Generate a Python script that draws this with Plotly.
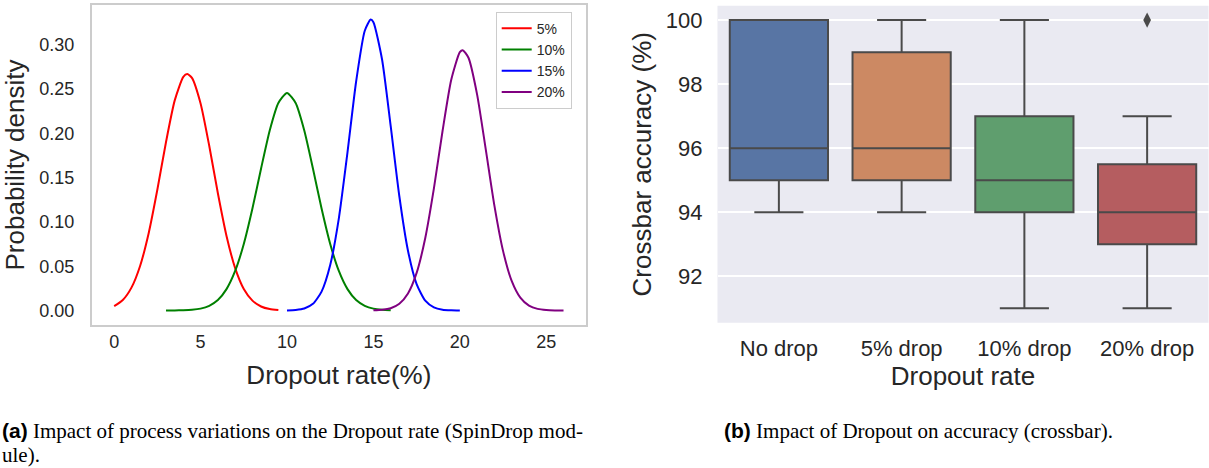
import plotly.graph_objects as go

# ---------------- data: panel (a) density curves ----------------
red_x = [0, 0.5, 1, 1.5, 2, 2.5, 3, 3.5, 4, 4.23, 4.5, 5, 5.5, 6, 6.5, 7, 7.5, 8, 8.5, 9, 9.5]
red_y = [0.0049, 0.0118, 0.0258, 0.0503, 0.0876, 0.1366, 0.1903, 0.2370, 0.2638, 0.2670, 0.2627,
         0.2338, 0.1860, 0.1324, 0.0842, 0.0479, 0.0243, 0.0111, 0.0045, 0.0016, 0.0005]

green_x = [3, 3.5, 4, 4.5, 5, 5.5, 6, 6.5, 7, 7.5, 8, 8.5, 9, 9.5, 10,
           10.5, 11, 11.5, 12, 12.5, 13, 13.5, 14, 14.5, 15, 15.5, 16]
green_y = [0.0000, 0.0001, 0.0003, 0.0008, 0.0021, 0.0053, 0.0118, 0.0241, 0.0446, 0.0751, 0.1151,
           0.1604, 0.2033, 0.2343, 0.2457, 0.2343, 0.2033, 0.1604, 0.1151, 0.0751, 0.0446, 0.0241,
           0.0118, 0.0053, 0.0021, 0.0008, 0.0003]

blue_x = [10, 10.5, 11, 11.5, 12, 12.5, 13, 13.5, 14, 14.5, 14.84, 15, 15.5, 16, 16.5, 17, 17.5,
          18, 18.5, 19, 19.5, 20]
blue_y = [0.0001, 0.0006, 0.0022, 0.0075, 0.0213, 0.0513, 0.1041, 0.1786, 0.2586, 0.3159, 0.3285,
          0.3256, 0.2834, 0.2081, 0.1290, 0.0675, 0.0298, 0.0111, 0.0035, 0.0009, 0.0002, 0.0000]

purple_x = [15, 15.5, 16, 16.5, 17, 17.5, 18, 18.5, 19, 19.5, 20, 20.17, 20.5, 21, 21.5, 22, 22.5,
            23, 23.5, 24, 24.5, 25, 25.5, 26]
purple_y = [0.0002, 0.0008, 0.0026, 0.0076, 0.0192, 0.0424, 0.0819, 0.1379, 0.2027, 0.2603, 0.2917,
            0.2940, 0.2854, 0.2438, 0.1819, 0.1184, 0.0673, 0.0334, 0.0145, 0.0055, 0.0018, 0.0005,
            0.0001, 0.0000]

series_names = ["5%", "10%", "15%", "20%"]
x_ticks_a = [0, 5, 10, 15, 20, 25]
y_ticks_a = [0.00, 0.05, 0.10, 0.15, 0.20, 0.25, 0.30]

# ---------------- data: panel (b) box plot statistics ----------------
categories_b = ["No drop", "5% drop", "10% drop", "20% drop"]
lower_whisker = [94, 94, 91, 91]
q1_vals = [95, 95, 94, 93]
median_vals = [96, 96, 95, 94]
q3_vals = [100, 99, 97, 95.5]
upper_whisker = [100, 100, 100, 97]
outlier_cat = ["20% drop"]
outlier_val = [100]
y_ticks_b = [92, 94, 96, 98, 100]

# ---------------- styling ----------------
FONT = "Liberation Sans, Arial, sans-serif"
TXT = "#262626"
line_colors = ["red", "green", "blue", "purple"]
box_colors = ["#5875A4", "#CC8963", "#5F9E6E", "#B55D60"]
BOX_LINE = "#4a4a4a"

fig = go.Figure()

curves = [(red_x, red_y), (green_x, green_y), (blue_x, blue_y), (purple_x, purple_y)]
for (xs, ys), name, col in zip(curves, series_names, line_colors):
    fig.add_trace(go.Scatter(x=xs, y=ys, mode="lines", name=name,
                             line=dict(color=col, width=2, shape="spline", smoothing=0.6),
                             xaxis="x", yaxis="y"))

for i, cat in enumerate(categories_b):
    fig.add_trace(go.Box(x=[cat], q1=[q1_vals[i]], median=[median_vals[i]], q3=[q3_vals[i]],
                         lowerfence=[lower_whisker[i]], upperfence=[upper_whisker[i]],
                         fillcolor=box_colors[i], line=dict(color=BOX_LINE, width=2),
                         width=0.8, whiskerwidth=0.5, boxpoints=False, showlegend=False,
                         xaxis="x2", yaxis="y2"))

fig.add_trace(go.Scatter(x=outlier_cat, y=outlier_val, mode="markers", showlegend=False,
                         marker=dict(symbol="diamond-tall", size=11, color=BOX_LINE),
                         xaxis="x2", yaxis="y2"))

W, H = 1209, 468
fig.update_layout(
    width=W, height=H, margin=dict(l=0, r=0, t=0, b=0),
    paper_bgcolor="white", plot_bgcolor="white",
    font=dict(family=FONT, color=TXT),
    boxmode="overlay",
    xaxis=dict(domain=[91.7 / W, 586 / W], range=[-1.3, 27.3], tickvals=x_ticks_a, anchor="y",
               showgrid=False, zeroline=False, showline=True, mirror=True,
               linecolor="#cccccc", linewidth=1.5, ticks="", ticklabelstandoff=0,
               tickfont=dict(size=18, color=TXT),
               title=dict(text="Dropout rate(%)", font=dict(size=26, color=TXT), standoff=14)),
    yaxis=dict(domain=[(H - 325) / H, (H - 5) / H], range=[-0.0164, 0.345], tickvals=y_ticks_a,
               anchor="x", tickformat=".2f", showgrid=False, zeroline=False, showline=True, mirror=True,
               linecolor="#cccccc", linewidth=1.5, ticks="", ticklabelstandoff=12,
               tickfont=dict(size=18, color=TXT),
               title=dict(text="Probability density", font=dict(size=26, color=TXT), standoff=8)),
    xaxis2=dict(domain=[717.5 / W, 1208.5 / W], range=[-0.5, 3.5], type="category", anchor="y2",
                categoryorder="array", categoryarray=categories_b,
                showgrid=False, zeroline=False, showline=False, ticks="", ticklabelstandoff=10,
                tickfont=dict(size=22, color=TXT),
                title=dict(text="Dropout rate", font=dict(size=26, color=TXT), standoff=2)),
    yaxis2=dict(domain=[(H - 322.7) / H, (H - 5.7) / H], range=[90.55, 100.45], tickvals=y_ticks_b,
                anchor="x2", showgrid=True, gridcolor="white", gridwidth=1.5, zeroline=False,
                showline=False, ticks="", ticklabelstandoff=14, tickfont=dict(size=22, color=TXT),
                title=dict(text="Crossbar accuracy (%)", font=dict(size=26, color=TXT), standoff=6)),
    legend=dict(x=495.7 / W, y=(H - 11.7) / H, xanchor="left", yanchor="top",
                bgcolor="white", bordercolor="#cccccc", borderwidth=1,
                font=dict(size=14, color=TXT), itemwidth=30, tracegroupgap=0),
    shapes=[dict(type="rect", xref="x2 domain", yref="y2 domain", x0=0, x1=1, y0=0, y1=1,
                 fillcolor="#EAEAF2", line=dict(width=0), layer="below")],
)

CAP = "Liberation Serif, Times New Roman, serif"
BOLD = '<span style="font-family:Liberation Sans;font-weight:bold">'
fig.add_annotation(x=0, y=1 - 431 / H, xref="paper", yref="paper", xanchor="left", yanchor="middle",
                   showarrow=False, font=dict(family=CAP, size=21, color="black"),
                   text=BOLD + "(a)</span> Impact of process variations on the Dropout rate (SpinDrop mod-")
fig.add_annotation(x=0, y=1 - 455 / H, xref="paper", yref="paper", xanchor="left", yanchor="middle",
                   showarrow=False, font=dict(family=CAP, size=21, color="black"),
                   text="ule).")
fig.add_annotation(x=722 / W, y=1 - 431 / H, xref="paper", yref="paper", xanchor="left", yanchor="middle",
                   showarrow=False, font=dict(family=CAP, size=21, color="black"),
                   text=BOLD + "(b)</span> Impact of Dropout on accuracy (crossbar).")

fig.write_html("out.html")
